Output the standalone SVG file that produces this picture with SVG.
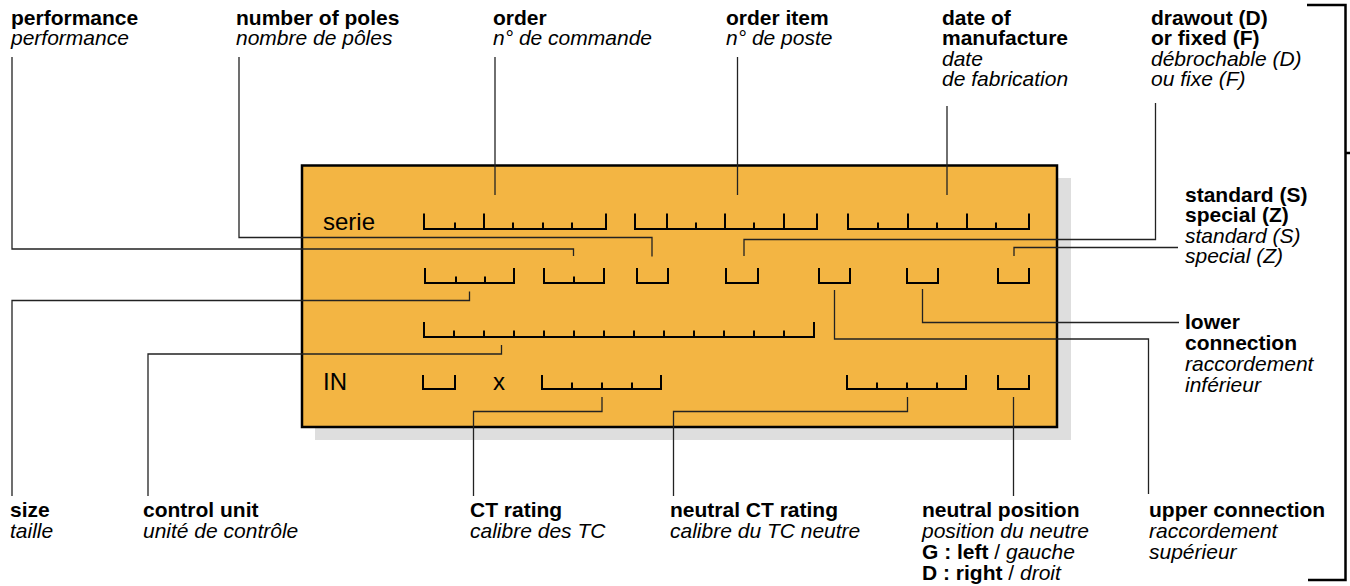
<svg xmlns="http://www.w3.org/2000/svg" width="1350" height="586" viewBox="0 0 1350 586">
<style>
.b{font-family:"Liberation Sans",Arial,sans-serif;font-weight:bold;font-size:21px;fill:#000}
.i{font-family:"Liberation Sans",Arial,sans-serif;font-style:italic;font-size:21px;fill:#000}
.r{font-family:"Liberation Sans",Arial,sans-serif;font-size:21px;fill:#000}
.f{font-family:"Liberation Sans",Arial,sans-serif;font-size:24px;fill:#000}
.tk{fill:none;stroke:#000;stroke-width:2}
.cn{fill:none;stroke:#222;stroke-width:1.3}
</style>
<rect width="1350" height="586" fill="#fff"/>
<g id="plate">
<rect x="315" y="178" width="756" height="262" fill="#dedede"/>
<rect x="302" y="165.5" width="755" height="261.5" fill="#f3b543" stroke="#000" stroke-width="2.5"/>
<text class="f" x="323" y="230">serie</text>
<text class="f" x="323" y="390">IN</text>
<text class="f" x="493" y="390">x</text>
</g>
<g id="fields">
<!-- row 1 -->
<path class="tk" d="M424,213.5V229H606V213.5M484,229V213.5M455,229v-6.5M513,229v-6.5M543,229v-6.5M572,229v-6.5"/>
<path class="tk" d="M635,213.5V229H817V213.5M667,229V213.5M725,229V213.5M784,229V213.5M696,229v-6.5M754,229v-6.5"/>
<path class="tk" d="M848,213.5V229H1029V213.5M908,229V213.5M967,229V213.5M878,229v-6.5M937,229v-6.5M996,229v-6.5"/>
<!-- row 2 -->
<path class="tk" d="M425,268V283H514V268M456,283v-6.5M485,283v-6.5"/>
<path class="tk" d="M544,268V283H604V268M574,283v-6.5"/>
<path class="tk" d="M637,268V283H668V268"/>
<path class="tk" d="M726,268V283H758V268"/>
<path class="tk" d="M819,268V283H850V268"/>
<path class="tk" d="M907,268V283H938V268"/>
<path class="tk" d="M998,268V283H1029V268"/>
<!-- row 3 -->
<path class="tk" d="M424,322V337H814V322M454,337v-6.5M484,337v-6.5M514,337v-6.5M544,337v-6.5M574,337v-6.5M604,337v-6.5M634,337v-6.5M664,337v-6.5M694,337v-6.5M724,337v-6.5M754,337v-6.5M784,337v-6.5"/>
<!-- row 4 -->
<path class="tk" d="M423,375V389H455V375"/>
<path class="tk" d="M542,375V389H661V375M572,389v-6.5M602,389v-6.5M632,389v-6.5"/>
<path class="tk" d="M847,375V389H966V375M877,389v-6.5M907,389v-6.5M937,389v-6.5"/>
<path class="tk" d="M998,375V389H1029V375"/>
</g>
<g id="connectors">
<path class="cn" d="M12,57V249H573.5V256"/>
<path class="cn" d="M239,57V237.5H652V256.5"/>
<path class="cn" d="M495,57V195"/>
<path class="cn" d="M737.5,57V195"/>
<path class="cn" d="M947,106V195"/>
<path class="cn" d="M1155.5,103V239.5H744V256"/>
<path class="cn" d="M1178,247.5H1014V256"/>
<path class="cn" d="M922.5,289V322.5H1179"/>
<path class="cn" d="M834.5,290V339H1148.5V494"/>
<path class="cn" d="M12,496V300.5H469.5V291.5"/>
<path class="cn" d="M148,496V354H501.5V345"/>
<path class="cn" d="M473.5,496V411.5H602V397"/>
<path class="cn" d="M673.5,496V411.5H907.5V397"/>
<path class="cn" d="M1013.5,397V496"/>
</g>
<g id="bracket">
<path d="M1307,5H1345.5V580H1308M1345.5,153H1350" fill="none" stroke="#000" stroke-width="2.5"/>
</g>
<g id="label-performance">
<text class="b" x="11" y="24.5">performance</text>
<text class="i" x="11" y="45">performance</text>
</g>
<g id="label-poles">
<text class="b" x="236" y="24.5">number of poles</text>
<text class="i" x="236" y="45">nombre de pôles</text>
</g>
<g id="label-order">
<text class="b" x="493" y="24.5">order</text>
<text class="i" x="493" y="45">n° de commande</text>
</g>
<g id="label-orderitem">
<text class="b" x="726" y="24.5">order item</text>
<text class="i" x="726" y="45">n° de poste</text>
</g>
<g id="label-date">
<text class="b" x="942" y="24.5">date of</text>
<text class="b" x="942" y="45">manufacture</text>
<text class="i" x="942" y="65.5">date</text>
<text class="i" x="942" y="86">de fabrication</text>
</g>
<g id="label-drawout">
<text class="b" x="1151" y="24.5">drawout (D)</text>
<text class="b" x="1151" y="45">or fixed (F)</text>
<text class="i" x="1151" y="65.5">débrochable (D)</text>
<text class="i" x="1151" y="86">ou fixe (F)</text>
</g>
<g id="label-standard">
<text class="b" x="1185" y="201.5">standard (S)</text>
<text class="b" x="1185" y="222">special (Z)</text>
<text class="i" x="1185" y="242.5">standard (S)</text>
<text class="i" x="1185" y="263">special (Z)</text>
</g>
<g id="label-lower">
<text class="b" x="1185" y="329">lower</text>
<text class="b" x="1185" y="350">connection</text>
<text class="i" x="1185" y="371">raccordement</text>
<text class="i" x="1185" y="391.5">inférieur</text>
</g>
<g id="label-upper">
<text class="b" x="1149" y="517">upper connection</text>
<text class="i" x="1149" y="538">raccordement</text>
<text class="i" x="1149" y="559">supérieur</text>
</g>
<g id="label-size">
<text class="b" x="10" y="517">size</text>
<text class="i" x="10" y="538">taille</text>
</g>
<g id="label-control">
<text class="b" x="143" y="517">control unit</text>
<text class="i" x="143" y="538">unité de contrôle</text>
</g>
<g id="label-ct">
<text class="b" x="470" y="517">CT rating</text>
<text class="i" x="470" y="538">calibre des TC</text>
</g>
<g id="label-neutralct">
<text class="b" x="670" y="517">neutral CT rating</text>
<text class="i" x="670" y="538">calibre du TC neutre</text>
</g>
<g id="label-neutralpos">
<text class="b" x="922" y="517">neutral position</text>
<text class="i" x="922" y="538">position du neutre</text>
<text x="922" y="559"><tspan class="b">G : left</tspan><tspan class="r"> / </tspan><tspan class="i">gauche</tspan></text>
<text x="922" y="579.5"><tspan class="b">D : right</tspan><tspan class="r"> / </tspan><tspan class="i">droit</tspan></text>
</g>
</svg>
